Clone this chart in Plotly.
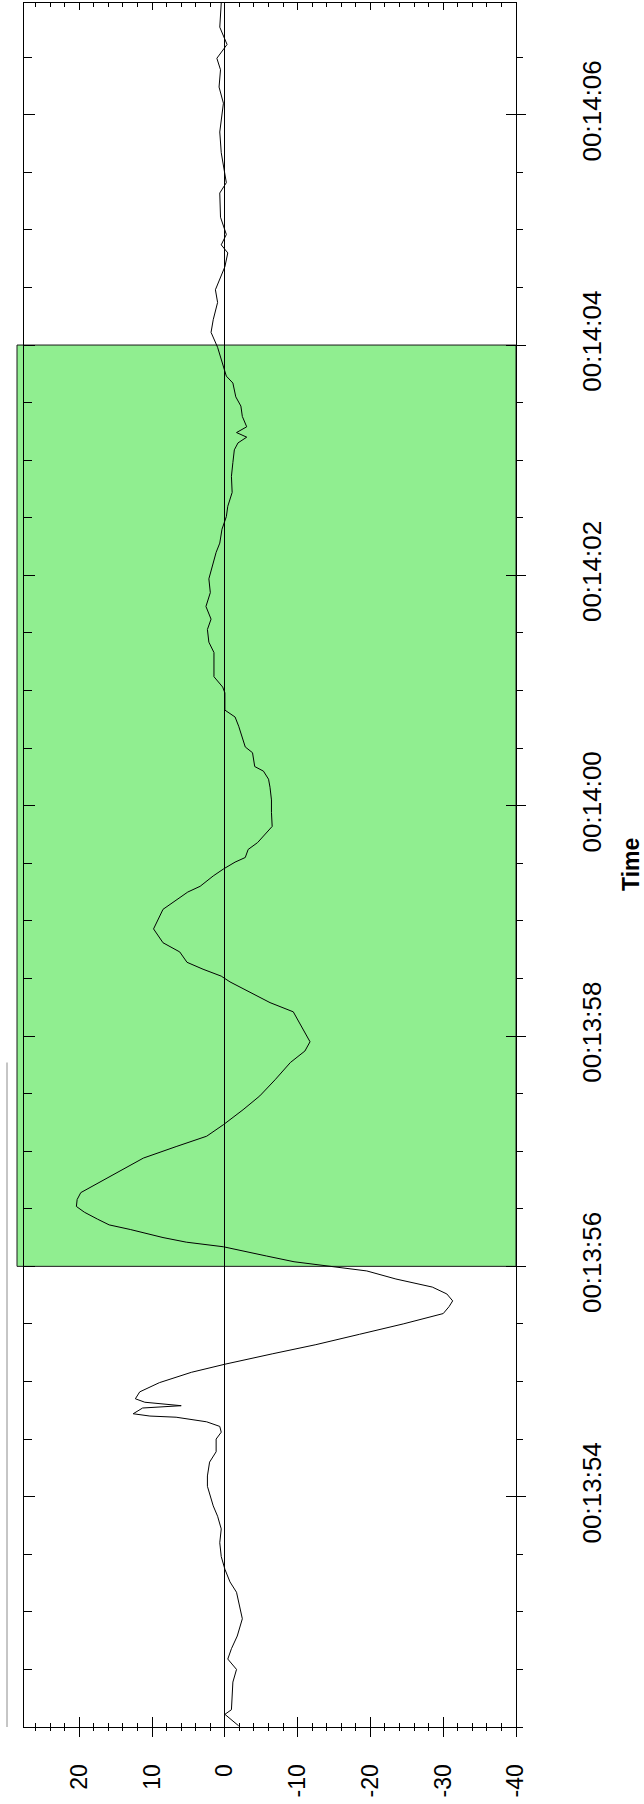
import plotly.graph_objects as go

# Signal trace: seconds past 00:13:00 and the recorded value
seconds = [
    52.01, 52.05, 52.11, 52.15, 52.27, 52.39, 52.50, 52.59, 52.68, 52.79,
    52.94, 53.05, 53.17, 53.26, 53.37, 53.48, 53.60, 53.72, 53.83, 53.92,
    53.98, 54.09, 54.18, 54.30, 54.39, 54.50, 54.56, 54.61, 54.65, 54.69,
    54.70, 54.72, 54.77, 54.79, 54.82, 54.85, 54.91, 54.99, 55.08, 55.15,
    55.24, 55.32, 55.41, 55.50, 55.59, 55.65, 55.70, 55.76, 55.82, 55.89,
    55.96, 56.00, 56.04, 56.09, 56.17, 56.21, 56.25, 56.32, 56.36, 56.41,
    56.47, 56.52, 56.58, 56.64, 56.73, 56.82, 56.94, 57.04, 57.13, 57.23,
    57.36, 57.48, 57.62, 57.77, 57.87, 57.95, 58.08, 58.21, 58.29, 58.38,
    58.47, 58.52, 58.58, 58.64, 58.73, 58.81, 58.93, 59.10, 59.16, 59.25,
    59.30, 59.39, 59.45, 59.51, 59.55, 59.62, 59.68, 59.78, 59.82, 59.94,
    60.05, 60.16, 60.23, 60.30, 60.34, 60.46, 60.51, 60.69, 60.77, 60.83,
    60.98, 61.03, 61.12, 61.33, 61.42, 61.53, 61.62, 61.73, 61.85, 61.97,
    62.11, 62.20, 62.28, 62.40, 62.51, 62.60, 62.72, 62.86, 62.98, 63.09,
    63.15, 63.20, 63.24, 63.29, 63.38, 63.47, 63.55, 63.67, 63.73, 63.81,
    63.90, 63.98, 64.11, 64.22, 64.37, 64.48, 64.68, 64.80, 64.87, 64.96,
    65.11, 65.32, 65.41, 65.67, 65.85, 66.10, 66.24, 66.39, 66.49, 66.61,
    66.76, 66.97,
]
signal = [
    -1.9, -1.1, 0.0, -0.9, -1.0, -1.1, -1.6, -0.4, -0.9, -1.7,
    -2.4, -2.0, -1.6, -0.7, 0.0, 0.5, 0.7, 0.5, 1.0, 1.6,
    1.9, 2.4, 2.4, 2.1, 1.2, 1.2, 0.5, 0.7, 2.5, 6.7,
    10.3, 12.6, 11.3, 6.0, 11.0, 12.3, 11.7, 9.0, 4.6, 0.0,
    -6.5, -12.5, -18.5, -24.5, -30.0, -30.8, -31.3, -30.5, -28.5, -23.5,
    -19.5, -14.5, -9.5, -5.7, 0.2, 5.3, 8.5, 13.0, 15.9, 17.5,
    19.3, 20.4, 20.3, 19.8, 17.2, 14.5, 11.2, 6.7, 2.5, 0.2,
    -2.5, -4.8, -6.9, -9.0, -11.0, -11.7, -10.6, -9.4, -6.2, -3.4,
    -0.7, 0.5, 3.0, 5.2, 6.2, 8.5, 9.8, 8.5, 7.1, 5.1,
    3.4, 1.6, 0.2, -1.4, -2.8, -3.2, -4.5, -5.9, -6.5, -6.4,
    -6.4, -6.2, -6.0, -5.3, -4.1, -3.8, -2.8, -1.9, -1.4, 0.0,
    0.0, 0.3, 1.5, 1.5, 2.2, 2.4, 1.9, 2.6, 2.0, 2.2,
    1.6, 1.2, 0.7, 0.4, -0.2, -0.4, -1.0, -0.9, -1.1, -1.3,
    -1.8, -3.0, -1.6, -3.0, -2.4, -2.2, -1.5, -1.1, -0.2, 0.2,
    0.7, 1.0, 1.9, 1.6, 1.0, 1.3, 0.0, -0.4, 0.5, -0.2,
    0.6, 0.7, -0.2, 0.5, 0.7, 0.2, 0.8, 0.6, 1.1, -0.3,
    0.7, 0.5,
]

# Axis ticks
time_ticks = [54, 56, 58, 60, 62, 64, 66]
time_labels = ["00:13:54", "00:13:56", "00:13:58", "00:14:00",
               "00:14:02", "00:14:04", "00:14:06"]
value_ticks = [20, 10, 0, -10, -20, -30, -40]
value_labels = ["20", "10", "0", "-10", "-20", "-30", "-40"]

time_range = [52.0, 66.97]
value_range = [27.6, -40]

# Selected window and the marker line beside the plot
window_start, window_end = 56, 64
marker_start, marker_end = 52.0, 57.77

FONT = "Liberation Sans, Arial, sans-serif"

fig = go.Figure()
fig.add_trace(go.Scatter(
    x=signal, y=seconds, mode="lines",
    line=dict(color="black", width=1),
    showlegend=False, hoverinfo="skip",
))
# empty traces so the tick-only overlay axes get drawn
fig.add_trace(go.Scatter(x=[], y=[], xaxis="x2", yaxis="y2", showlegend=False))
fig.add_trace(go.Scatter(x=[], y=[], xaxis="x3", yaxis="y3", showlegend=False))

common = dict(showgrid=False, zeroline=False, showticklabels=False, showline=False)

fig.update_layout(
    width=644, height=1804,
    margin=dict(l=24, r=128, t=3, b=77, pad=0),
    paper_bgcolor="white", plot_bgcolor="white",
    font=dict(family=FONT, color="black"),
    xaxis=dict(
        range=value_range, showgrid=False,
        zeroline=True, zerolinecolor="black", zerolinewidth=1,
        showline=True, linecolor="black", linewidth=1, mirror=True,
        tickmode="array", tickvals=value_ticks, ticktext=value_labels,
        ticks="outside", ticklen=9, tickwidth=1, tickcolor="black",
        minor=dict(tickmode="linear", tick0=0, dtick=2, ticks="outside",
                   ticklen=3, tickwidth=1, tickcolor="black"),
        tickangle=-90, tickfont=dict(size=23, family=FONT),
        ticklabelstandoff=18,
    ),
    yaxis=dict(
        range=time_range, side="right", showgrid=False, zeroline=False,
        showline=True, linecolor="black", linewidth=1, mirror=True,
        tickmode="array", tickvals=time_ticks, ticktext=time_labels,
        ticks="outside", ticklen=9, tickwidth=1, tickcolor="black",
        minor=dict(tickmode="linear", tick0=52, dtick=0.5, ticks="outside",
                   ticklen=6, tickwidth=1, tickcolor="black"),
        tickangle=-90, tickfont=dict(size=26, family=FONT),
        ticklabelstandoff=44,
    ),
    xaxis2=dict(
        overlaying="x", side="bottom", range=value_range, **common,
        tickmode="array", tickvals=value_ticks,
        ticks="inside", ticklen=10, tickwidth=1, tickcolor="black",
        minor=dict(tickmode="linear", tick0=0, dtick=2, ticks="inside",
                   ticklen=4, tickwidth=1, tickcolor="black"),
    ),
    yaxis2=dict(
        overlaying="y", side="right", range=time_range, **common,
        tickmode="array", tickvals=time_ticks,
        ticks="inside", ticklen=10, tickwidth=1, tickcolor="black",
    ),
    xaxis3=dict(
        overlaying="x", side="top", range=value_range, **common,
        tickmode="array", tickvals=value_ticks,
        ticks="inside", ticklen=7, tickwidth=1, tickcolor="black",
        minor=dict(tickmode="linear", tick0=0, dtick=2, ticks="inside",
                   ticklen=4, tickwidth=1, tickcolor="black"),
    ),
    yaxis3=dict(
        overlaying="y", side="left", range=time_range, **common,
        tickmode="array", tickvals=time_ticks,
        ticks="inside", ticklen=11, tickwidth=1, tickcolor="black",
        minor=dict(tickmode="linear", tick0=52, dtick=0.5, ticks="inside",
                   ticklen=8, tickwidth=1, tickcolor="black"),
    ),
)

# Highlighted time window
fig.add_shape(
    type="rect", xref="paper", yref="y",
    x0=-7 / 492, x1=1, y0=window_start, y1=window_end,
    fillcolor="#90EE90", line=dict(color="#1a1a1a", width=1), layer="below",
)
# Thin marker line left of the plot
fig.add_shape(
    type="line", xref="paper", yref="y",
    x0=-17 / 492, x1=-17 / 492, y0=marker_start, y1=marker_end,
    line=dict(color="#8c8c8c", width=1), layer="above",
)

fig.add_annotation(
    text="<b>Time</b>", xref="paper", yref="paper",
    x=(631 - 24) / 492, y=0.5, xanchor="center", yanchor="middle",
    textangle=-90, showarrow=False, font=dict(size=23, family=FONT),
)

fig.write_html("out.html")
